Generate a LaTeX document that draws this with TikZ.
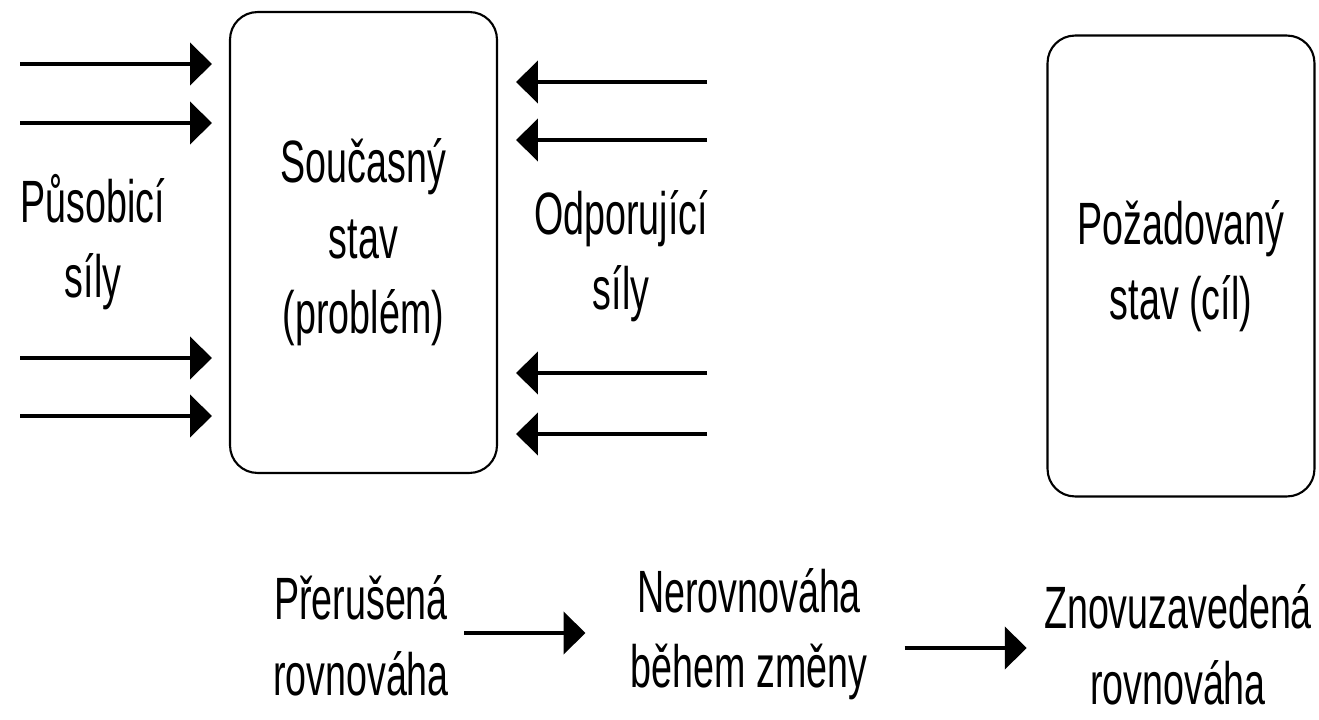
\documentclass[tikz,border=0pt]{standalone}
\usepackage{fontspec}
\setmainfont{Liberation Sans}[FakeStretch=0.63]
\usetikzlibrary{arrows.meta, positioning}
\tikzset{
  >=Triangle,
  forcearrow/.style={-{Triangle[length=12.5pt, width=24pt]}, line width=2.2pt, black},
  statebox/.style={draw, line width=1.2pt, rounded corners=0.55cm, minimum width=5.34cm, minimum height=9.22cm, align=center, inner sep=0pt},
  forcelabel/.style={align=center, inner sep=0pt}
}
\begin{document}
\begin{tikzpicture}[x=0.02cm, y=-0.02cm, font=\fontsize{34}{43}\selectfont]
    \useasboundingbox (0,0) rectangle (1319,720);
    % stavy
    \node (cur) [statebox] at (363.5,242.5) {Současný\\stav\\(problém)};
    \node (goal) [statebox] at (1181,266) {Požadovaný\\stav (cíl)};
    % sily
    \node (drive) [forcelabel] at (93,242) {Působicí\\síly};
    \node (resist) [forcelabel] at (621,256) {Odporující\\síly};

    \foreach \y [count=\i] in {64,123,358,416} {
        \coordinate (d\i) at (20,\y);
        \draw[forcearrow, shorten >=0.34cm] (d\i) -- (d\i -| cur.west);
    }
    \foreach \y [count=\i] in {82,140,373,434} {
        \coordinate (r\i) at (707,\y);
        \draw[forcearrow, shorten >=0.36cm] (r\i) -- (r\i -| cur.east);
    }

    % rovnovaha
    \node (broken) [forcelabel] at (361,636) {Přerušená\\rovnováha};
    \node (imbal) [forcelabel] at (749,634) {Nerovnováha\\během změny};
    \node (restored) [forcelabel] at (1178,645) {Znovuzavedená\\rovnováha};
    \coordinate (lvlA) at (0,633);
    \coordinate (lvlB) at (0,648);

    \draw[forcearrow, shorten <=0.3cm, shorten >=0.9cm] (broken.east |- lvlA) -- (imbal.west |- lvlA);
    \draw[forcearrow, shorten <=0.74cm, shorten >=0.34cm] (imbal.east |- lvlB) -- (restored.west |- lvlB);
\end{tikzpicture}
\end{document}
